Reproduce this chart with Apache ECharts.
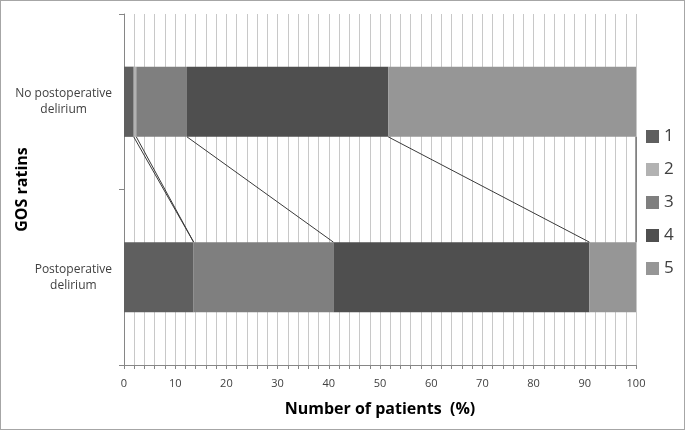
<!DOCTYPE html>
<html><head><meta charset="utf-8">
<script src="https://cdn.jsdelivr.net/npm/echarts@6/dist/echarts.min.js"></script>
<style>html,body{margin:0;padding:0;background:#fff}#c{width:685px;height:430px;box-sizing:border-box;border:1px solid #a6a6a6}</style>
</head><body><div id="c"></div>
<script>
const categories = ['No postoperative delirium', 'Postoperative delirium'];
const gosLabels = ['1', '2', '3', '4', '5'];
const noDelirium = [1.9, 0.5, 9.9, 39.3, 48.4];
const delirium = [13.6, 0, 27.3, 50.0, 9.1];
const xTicks = [0, 10, 20, 30, 40, 50, 60, 70, 80, 90, 100];
const colors = ['#5f5f5f', '#b2b2b2', '#7f7f7f', '#4f4f4f', '#969696'];

const FONT = '"Open Sans", "Liberation Sans", sans-serif';
const BAR_FRAC = 0.4;

function cum(arr) { let s = 0; return arr.map(v => (s += v)); }
const cTop = cum(noDelirium), cBot = cum(delirium);
const connectors = cTop.map((v, i) => [v, 0, cBot[i], 1]);

const series = gosLabels.map((name, i) => ({
  name, type: 'bar', stack: 'total', barWidth: (BAR_FRAC * 100) + '%',
  itemStyle: { color: colors[i] },
  data: [noDelirium[i], delirium[i]]
}));
series.push({
  type: 'custom', silent: true, z: 5,
  encode: { x: [0, 2], y: [1, 3] },
  data: connectors,
  renderItem(params, api) {
    const p0 = api.coord([api.value(0), api.value(1)]);
    const p1 = api.coord([api.value(2), api.value(3)]);
    const h = api.size([0, 1])[1] * BAR_FRAC / 2;
    return { type: 'line', shape: { x1: p0[0], y1: p0[1] + h, x2: p1[0], y2: p1[1] - h },
      style: { stroke: '#3a3a3a', lineWidth: 1 } };
  }
});

const chart = echarts.init(document.getElementById('c'));
chart.setOption({
  animation: false,
  textStyle: { fontFamily: FONT },
  grid: { left: 123, right: 48, top: 13, bottom: 64, containLabel: false, outerBoundsMode: 'none' },
  legend: {
    data: gosLabels, orient: 'vertical', left: 640, top: 122,
    icon: 'rect', itemWidth: 13, itemHeight: 13, itemGap: 16,
    textStyle: { fontSize: 17, color: '#404040', fontFamily: FONT }
  },
  xAxis: {
    type: 'value', min: 0, max: 100, interval: 2,
    name: 'Number of patients  (%)', nameLocation: 'middle', nameGap: 36, nameMoveOverlap: false,
    nameTextStyle: { fontSize: 16, fontWeight: 'bold', color: '#000', fontFamily: FONT },
    axisLine: { show: true, lineStyle: { color: '#868686' } },
    axisTick: { show: true, length: 4, lineStyle: { color: '#868686' } },
    axisLabel: { fontSize: 11, color: '#404040', margin: 13,
      formatter: v => xTicks.includes(v) ? String(v) : '' },
    splitLine: { show: true, lineStyle: { color: '#c8c8c8', width: 1 } }
  },
  yAxis: {
    type: 'category', data: categories, inverse: true,
    name: 'GOS ratins', nameLocation: 'middle', nameGap: 94, nameMoveOverlap: false,
    nameTextStyle: { fontSize: 16, fontWeight: 'bold', color: '#000', fontFamily: FONT },
    axisLine: { show: true, lineStyle: { color: '#868686' } },
    axisTick: { show: true, length: 5, lineStyle: { color: '#868686' } },
    axisLabel: {
      margin: 12, color: '#404040', fontSize: 12, lineHeight: 16,
      formatter: v => {
        const w = v.split(' ');
        const last = w.pop();
        return '{a|' + w.join(' ') + '}\n{a|' + last + '}';
      },
      rich: { a: { align: 'center', fontSize: 12, color: '#404040', lineHeight: 16, fontFamily: FONT } }
    }
  },
  series
});
</script></body></html>
